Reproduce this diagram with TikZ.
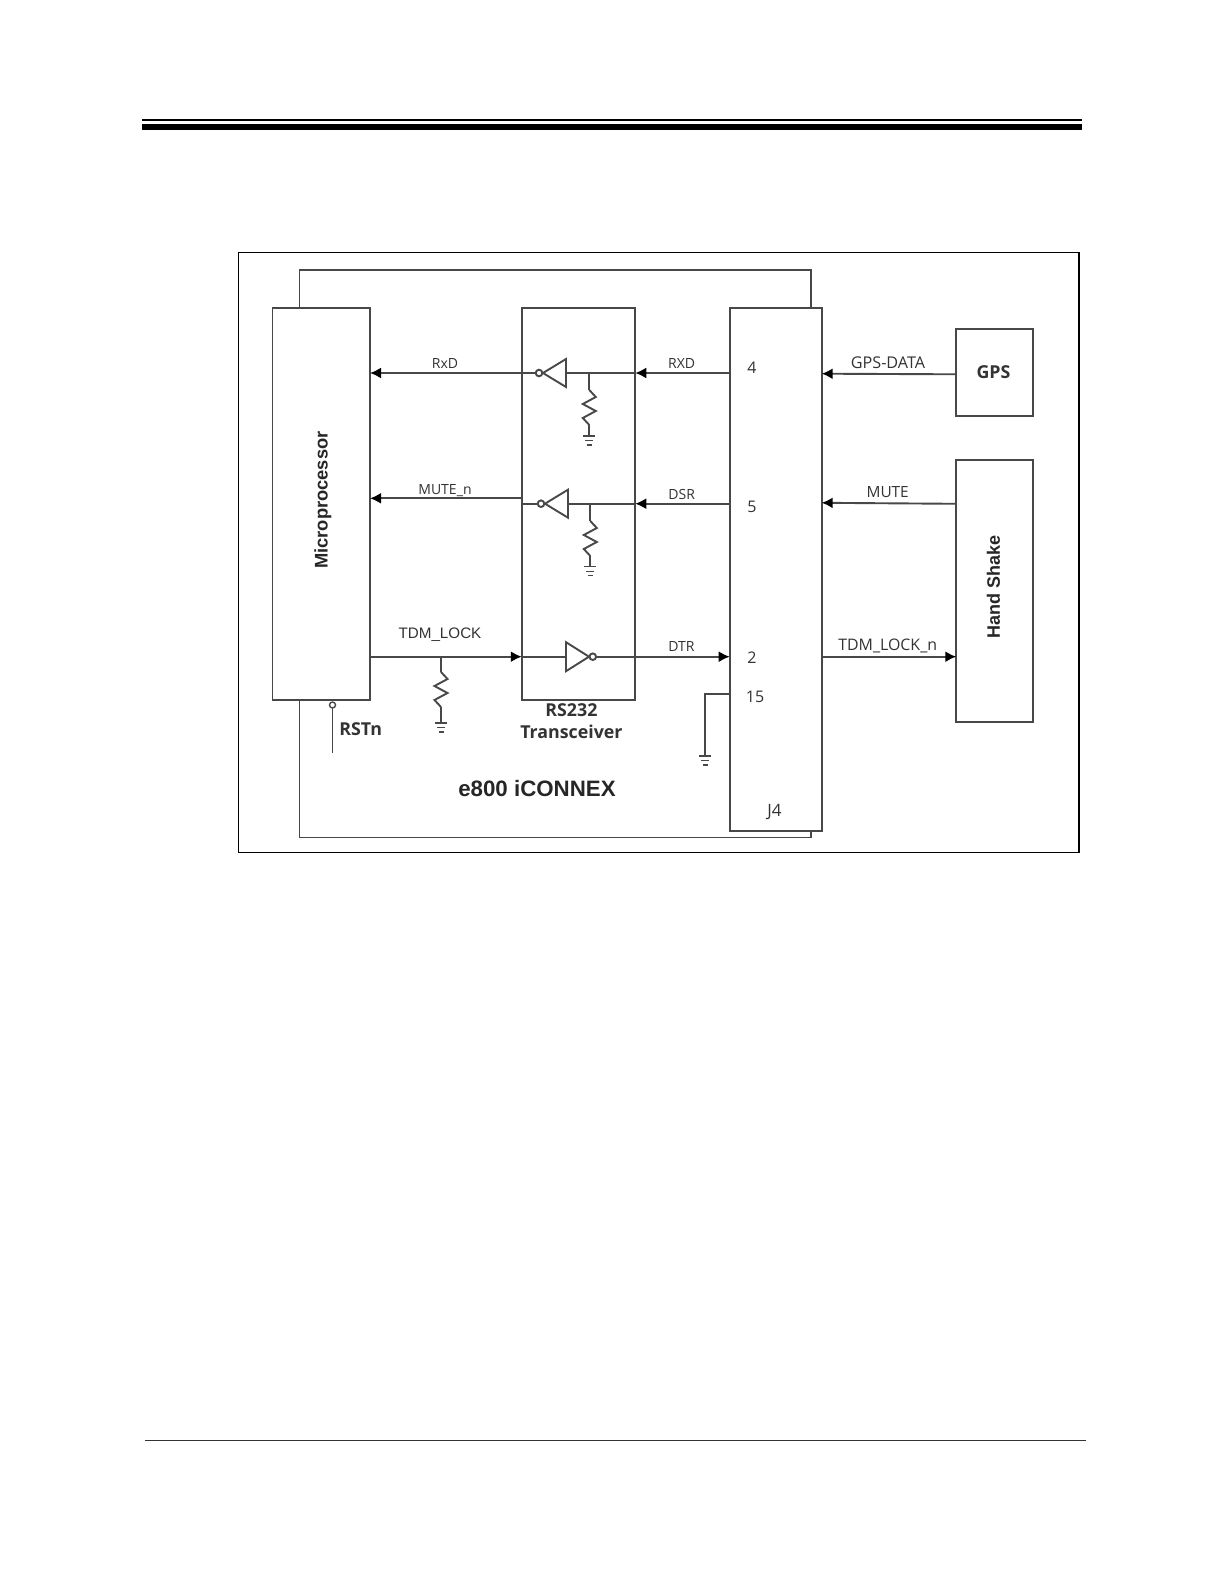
\documentclass[tikz,border=0pt]{standalone}
\usepackage{fontspec}
\setmainfont{Liberation Sans}
\newfontfamily\lblfont{Open Sans}
\usetikzlibrary{arrows.meta}
\definecolor{ln}{HTML}{484848}
\tikzset{
  x=1pt,y=-1pt,
  wire/.style={draw=ln,line width=1.9pt},
  sig/.style={wire,-{Latex[length=11pt,width=11pt,color=black]}},
  box/.style={draw=ln,line width=1.9pt,fill=white,inner sep=0pt,outer sep=0pt,minimum width=#1},
  lab/.style={font=\lblfont\fontsize{14}{16}\selectfont,text=black!80,inner sep=0pt},
  labb/.style={font=\lblfont\fontsize{16}{18}\selectfont,text=black!80,inner sep=0pt},
  arl/.style={font=\fontsize{15.2}{17}\selectfont,text=black!80,inner sep=0pt},
  bld/.style={font=\bfseries\fontsize{18}{20}\selectfont,text=black!85,inner sep=0pt},
  bldb/.style={font=\lblfont\bfseries\fontsize{17.8}{20}\selectfont,text=black!80,inner sep=0pt},
  gnd/.pic={\draw[wire,line width=1.4pt] (-6,0)--(6,0) (-4,4.5)--(4,4.5) (-2.5,9)--(2.5,9);},
  res/.pic={\draw[wire,line join=miter] (0,0)--(6.5,7)--(-6.5,14)--(6.5,21)--(-6.5,28)--(0,35);},
  invl/.pic={\draw[wire,line join=miter] (0,0)--(23,-14)--(23,14)--cycle; \draw[wire,fill=white] (-4,0) circle (3.3);},
  invr/.pic={\draw[wire,line join=miter] (0,0)--(-23,-14.5)--(-23,14.5)--cycle; \draw[wire,fill=white] (3.8,0) circle (3.3);},
}
\begin{document}
\begin{tikzpicture}
\useasboundingbox (0,0) rectangle (1224,1584);
\fill[white] (0,0) rectangle (1224,1584);
% page rules
\fill[black] (142,119) rectangle (1082,121);
\fill[black] (142,124) rectangle (1082,130);
\fill[black!80] (145,1440) rectangle (1086,1441);
% outer frame
\node[draw=black,line width=1.2pt,inner sep=0pt,outer sep=0pt,minimum width=840.5pt,minimum height=600pt] (frame) at (658.75,552.5) {};
% enclosure
\draw[wire] (299.5,308) -- (299.5,270) -- (811,270) -- (811,308);
\draw[wire] (299.5,700) -- (299.5,837.5) -- (811,837.5) -- (811,830);
% main blocks
\node[box=97.5pt,minimum height=392.5pt] (micro) at (321.25,504) {};
\node[box=113.5pt,minimum height=392.5pt] (xcvr) at (578.5,504) {};
\node[box=92pt,minimum height=523pt] (j4) at (775.7,569.2) {};
\node[box=76.4pt,minimum height=87pt] (gps) at (994.5,372.8) {};
\node[box=76.4pt,minimum height=261.7pt] (hand) at (994.5,591.2) {};
% anchor coordinates
\coordinate (inv1) at (543,373);
\coordinate (inv2) at (545,503.7);
\coordinate (inv3) at (589,656.7);
\coordinate (inv1b) at (535.4,373);
\coordinate (inv2b) at (537.4,503.7);
\coordinate (r1) at (589.3,373);
\coordinate (r2) at (590.3,503.7);
\coordinate (r3) at (441,656.7);
\coordinate (rst) at (332.5,708);
\coordinate (rstend) at (332.5,752.7);
% inverters' signals
\draw[sig] (j4.west |- inv1) -- (xcvr.east |- inv1);
\draw[wire] (xcvr.east |- inv1) -- (566,373);
\draw[sig] (inv1b) -- (micro.east |- inv1);
\draw[sig] (j4.west |- inv2) -- (xcvr.east |- inv2);
\draw[wire] (xcvr.east |- inv2) -- (568,503.7);
\draw[wire] (xcvr.west |- inv2) -- (inv2b);
\draw[sig] (xcvr.west |- 0,498.3) -- (micro.east |- 0,498.3);
\draw[sig] (micro.east |- r3) -- (xcvr.west |- r3);
\draw[wire] (xcvr.west |- r3) -- (566,656.7);
\draw[sig] (592,656.7) -- (j4.west |- inv3);
% gates
\pic at (inv1) {invl};
\pic at (inv2) {invl};
\pic at (inv3) {invr};
% pull-downs
\draw[wire] (r1) -- (589.3,390);
\pic at (589.3,390) {res};
\draw[wire] (589.3,425) -- (589.3,436);
\pic at (589.3,436) {gnd};
\draw[wire] (r2) -- (590.3,521);
\pic at (590.3,521) {res};
\draw[wire] (590.3,556) -- (590.3,566.7);
\pic at (590.3,566.7) {gnd};
\draw[wire] (r3) -- (441,672);
\pic at (441,672) {res};
\draw[wire] (441,707) -- (441,723);
\pic at (441,723) {gnd};
% pin 15
\coordinate (p15) at (705.4,694.3);
\draw[wire] (j4.west |- p15) -- (p15) -- (705.4,756);
\pic at (705.4,756) {gnd};
% reset
\draw[wire,line width=1.4pt,fill=white] (332.5,705) circle (3);
\draw[wire] (rst) -- (rstend);
% external signals
\draw[sig] (gps.west |- 0,374.3) -- (j4.east |- 0,373.7);
\draw[sig] (hand.west |- 0,503.8) -- (j4.east |- 0,502.8);
\draw[sig] (j4.east |- 0,656.7) -- (hand.west |- 0,656.7);
% labels
\node[lab] (l1) at (445,363) {RxD};
\node[lab] (l2) at (445,490.5) {MUTE\_n};
\node[lab] (l3) at (681.7,363) {RXD};
\node[lab] (l4) at (681.7,494) {DSR};
\node[arl] (l5) at (440,635) {TDM\_LOCK};
\node[lab] (l6) at (681.5,646.7) {DTR};
\node[labb] (p4) at (752,368) {4};
\node[labb] (p5) at (752,507) {5};
\node[labb] (p2) at (752,658) {2};
\node[labb] (p15t) at (755,697) {15};
\node[labb,font=\lblfont\fontsize{17}{18}\selectfont] (j4t) at (774.5,811.7) {J4};
\node[lab,font=\lblfont\fontsize{16.2}{18}\selectfont] (l7) at (888,362.7) {GPS-DATA};
\node[lab,font=\lblfont\fontsize{15.4}{18}\selectfont] (l8) at (887.7,491.7) {MUTE};
\node[lab,font=\lblfont\fontsize{15.9}{18}\selectfont] (l9) at (887.7,645.7) {TDM\_LOCK\_n};
\node[bldb] (l10) at (993.5,372) {GPS};
\node[bld,rotate=90] (l11) at (993.5,586.5) {Hand Shake};
\node[bld,rotate=90,font=\bfseries\fontsize{18.3}{20}\selectfont] (l12) at (323,500) {Microprocessor};
\node[bldb] (l13) at (360.7,729) {RSTn};
\node[bldb] (l14) at (571.4,710) {RS232};
\node[bldb] (l15) at (571.4,732) {Transceiver};
\node[bld,font=\bfseries\fontsize{22.3}{24}\selectfont] (l16) at (537,789) {e800 iCONNEX};
\end{tikzpicture}
\end{document}
